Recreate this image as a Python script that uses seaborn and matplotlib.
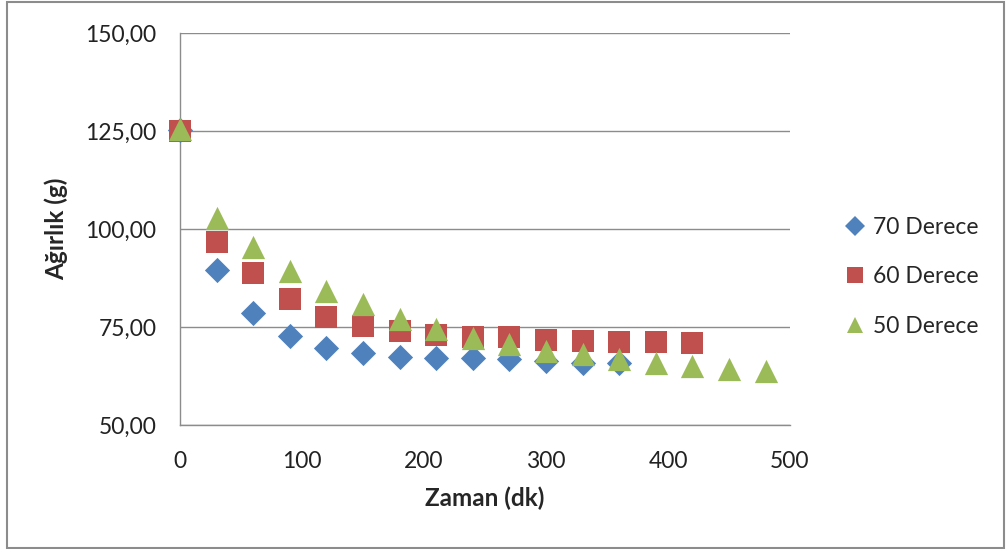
import pandas as pd
import matplotlib.pyplot as plt
import seaborn as sns
from matplotlib.lines import Line2D
from matplotlib.patches import Rectangle
from matplotlib.ticker import FuncFormatter

# --- data ---
zaman_70 = [0, 30, 60, 90, 120, 150, 180, 210, 240, 270, 300, 330, 360]
agirlik_70 = [125.3, 89.5, 78.5, 72.8, 69.6, 68.3, 67.3, 67.0, 67.0, 66.8, 66.2, 65.9, 65.9]

zaman_60 = [0, 30, 60, 90, 120, 150, 180, 210, 240, 270, 300, 330, 360, 390, 420]
agirlik_60 = [125.1, 96.6, 88.7, 82.2, 77.6, 75.3, 74.0, 73.0, 72.5, 72.4, 71.7, 71.4, 71.1, 71.1, 71.0]

zaman_50 = [0, 30, 60, 90, 120, 150, 180, 210, 240, 270, 300, 330, 360, 390, 420, 450, 480]
agirlik_50 = [125.5, 102.7, 95.5, 89.3, 84.3, 80.8, 77.0, 74.5, 72.3, 70.7, 68.9, 68.0, 66.8, 65.7, 65.1, 64.3, 63.8]

seriler = ['70 Derece', '60 Derece', '50 Derece']
renkler = ['#4F81BD', '#C0504D', '#9BBB59']
isaretler = ['D', 's', '^']
boyutlar = [165, 230, 280]  # scatter sizes so the marks look alike in pixels

veriler = [(zaman_70, agirlik_70), (zaman_60, agirlik_60), (zaman_50, agirlik_50)]

sns.set_style("white")
plt.rcParams['font.family'] = ['Lato', 'DejaVu Sans']

fig = plt.figure(figsize=(10.08, 5.49), dpi=100)
ax = fig.add_axes([180 / 1008, 1 - 425 / 549, 610 / 1008, 392 / 549])

# one call per series, blue first so the triangles sit on top
for (x, y), ad, renk, isaret, boy in zip(veriler, seriler, renkler, isaretler, boyutlar):
    df = pd.DataFrame({'Zaman': x, 'Agirlik': y})
    sns.scatterplot(data=df, x='Zaman', y='Agirlik', color=renk, marker=isaret,
                    s=boy, linewidth=0, ax=ax, zorder=3, clip_on=False)

ax.set_xlim(0, 500)
ax.set_ylim(50, 150)
ax.set_xticks(range(0, 501, 100))
ax.set_yticks(range(50, 151, 25))
ax.yaxis.set_major_formatter(FuncFormatter(lambda v, p: f"{v:.2f}".replace('.', ',')))

ax.grid(axis='y', color='#8C8C8C', linewidth=1)
ax.grid(axis='x', visible=False)
for s in ['top', 'right']:
    ax.spines[s].set_visible(False)
for s in ['left', 'bottom']:
    ax.spines[s].set_color('#8C8C8C')
    ax.spines[s].set_linewidth(1)

ax.tick_params(axis='y', length=0, pad=17, labelsize=16.5, colors='#222222')
ax.tick_params(axis='x', length=0, pad=19, labelsize=16.5, colors='#222222')

ax.set_xlabel('Zaman (dk)', fontsize=17.5, fontweight='bold', labelpad=10)
ax.set_ylabel('Ağırlık (g)', fontsize=17.5, fontweight='bold', labelpad=12)

# legend on the right, no frame
handles = [Line2D([], [], linestyle='none', marker=m, color=c, markersize=ms, markeredgewidth=0)
           for m, c, ms in zip(isaretler, renkler, [10, 11, 11])]
fig.legend(handles, seriler, loc='center left', bbox_to_anchor=(823 / 1008, 1 - 277 / 549),
           frameon=False, fontsize=16.5, handlelength=1.0, handletextpad=0.3,
           labelspacing=1.25)

# chart border like the spreadsheet frame
fig.patches.append(Rectangle((7 / 1008, 1 / 549), 997 / 1008, 546 / 549,
                             transform=fig.transFigure, fill=False,
                             edgecolor='#8C8C8C', linewidth=1.5))

fig.savefig('out.png', dpi=100)
